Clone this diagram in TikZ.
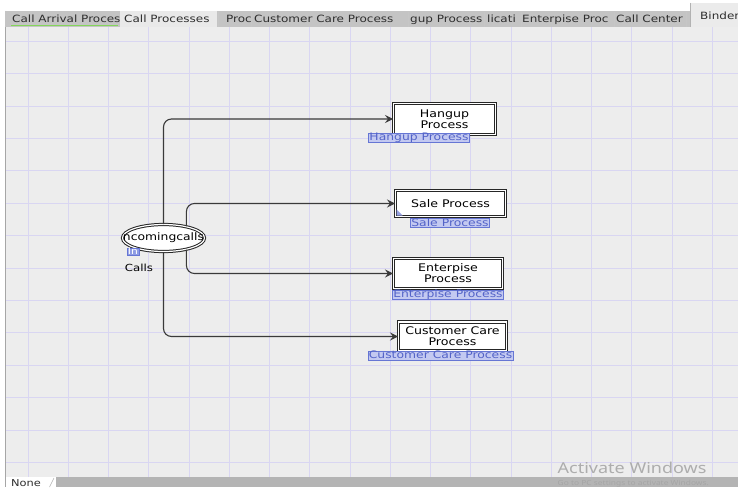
\documentclass[tikz,border=0pt]{standalone}
\usepackage{fontspec}
\newfontfamily\uifont{DejaVu Sans}[FakeStretch=1.2]
\newfontfamily\winfont{Noto Sans}[FakeStretch=1.2]
\usetikzlibrary{arrows.meta,shapes.geometric}
\definecolor{canvasc}{HTML}{EDEDED}
\definecolor{gridc}{HTML}{D9D6F2}
\definecolor{tabbar}{HTML}{C4C4C4}
\definecolor{tabact}{HTML}{E9E9E9}
\definecolor{tabtext}{HTML}{2E2E2E}
\definecolor{lblfill}{HTML}{C3C9F1}
\definecolor{lbldraw}{HTML}{6676D4}
\definecolor{lbltext}{HTML}{5363C8}
\definecolor{inbox}{HTML}{8E9CE4}
\definecolor{connc}{HTML}{3A3A3A}
\definecolor{bottombar}{HTML}{B4B4B4}
\definecolor{greenline}{HTML}{84D65A}
\definecolor{watermark}{HTML}{ADADAD}
\tikzset{
  tabtxt/.style={anchor=base west, inner sep=0pt, text=tabtext, font=\uifont\fontsize{10}{12}\selectfont},
  procbox/.style={rectangle, draw=black!85, double=white, double distance=1.2pt, line width=1pt,
    fill=white, inner sep=0pt, align=center, font=\uifont\fontsize{10.5}{11}\selectfont},
  ellnode/.style={ellipse, draw=black!85, double=white, double distance=1.2pt, line width=1pt,
    fill=white, inner sep=0pt, minimum width=82pt, minimum height=27pt},
  bluelbl/.style={rectangle, fill=lblfill, draw=lbldraw, line width=0.6pt, text=lbltext,
    inner xsep=1pt, inner ysep=0.4pt, text height=7.2pt, text depth=1.2pt,
    font=\uifont\fontsize{10.3}{10}\selectfont},
  inlbl/.style={rectangle, fill=inbox, draw=lbldraw, line width=0.6pt, text=white,
    inner xsep=1pt, inner ysep=0.3pt, text height=6.5pt, text depth=0pt,
    font=\uifont\fontsize{9}{9}\selectfont},
  connector/.style={draw=connc, line width=1.1pt, rounded corners=8pt,
    -{Stealth[length=8pt,width=8pt,inset=3pt]}},
}
\begin{document}
\begin{tikzpicture}[x=1pt,y=-1pt]
\useasboundingbox (0,0) rectangle (738,487);
\fill[white] (0,0) rectangle (738,487);
% canvas
\fill[canvasc] (5,27) rectangle (738,476.5);
\foreach \i in {0,...,17} \draw[gridc, line width=0.6pt] ({28+40.25*\i},27) -- ({28+40.25*\i},476.5);
\foreach \j in {0,...,13} \draw[gridc, line width=0.6pt] (5,{41+32.4*\j}) -- (738,{41+32.4*\j});
\draw[gray!70, line width=0.6pt] (5,11) -- (5,487);
% tab bar
\fill[tabbar] (5,11) rectangle (690,27);
\fill[tabact] (120,11) rectangle (217,27);
\fill[tabact!90!white] (690,3) rectangle (738,27);
\draw[gray!60, line width=0.5pt] (690,3) -- (690,27);
\foreach \sx in {218,251,408,484,521,614,686} \draw[gray!45, line width=0.5pt] (\sx,12) -- (\sx,27);
\node[tabtxt] (t1) at (12,23) {Call Arrival Proces};
\draw[greenline, line width=1.5pt] (11,25.3) -- (118,25.3);
\node[tabtxt] (t2) at (124,23) {Call Processes};
\node[tabtxt] (t3) at (226,23) {Proc};
\node[tabtxt] (t4) at (254,23) {Customer Care Process};
\node[tabtxt] (t5) at (410,23) {gup Process};
\node[tabtxt] (t6) at (487,23) {licati};
\node[tabtxt] (t7) at (522,23) {Enterpise Proc};
\node[tabtxt] (t8) at (616,23) {Call Center};
\node[tabtxt] (t9) at (700,19.5) {Binder};
% nodes
\node[ellnode, label={[font=\uifont\fontsize{10.3}{12}\selectfont, inner sep=0pt]center:ncomingcalls}] (inc) at (163.5,238) {};
\node[inlbl] (inl) at (133,251.5) {In};
\node[font=\uifont\fontsize{9.8}{11}\selectfont, inner sep=0pt] (calls) at (139,267.5) {Calls};
\node[procbox, minimum width=102pt, minimum height=31pt] (hang) at (444.5,119) {Hangup\\Process};
\node[procbox, minimum width=110pt, minimum height=26pt] (sale) at (450.5,203.5) {Sale Process};
\node[procbox, minimum width=109pt, minimum height=30pt] (ent) at (448,273.5) {Enterpise\\Process};
\node[procbox, minimum width=108pt, minimum height=29pt] (cust) at (452.5,336.5) {Customer Care\\Process};
% connectors
\draw[connector] (inc.north) |- (hang.west);
\draw[connector] (inc.27) |- (sale.west);
\draw[connector] (inc.-27) |- (ent.west);
\draw[connector] (inc.south) |- (cust.west);
% corner handle
\fill[lbldraw!70] (sale.south west) ++(1.5,-1.5) -- ++(0,-6) -- ++(6,6) -- cycle;
% blue labels
\node[bluelbl] (hangl) at (419,137.5) {Hangup Process};
\node[bluelbl] (salel) at (450,223) {Sale Process};
\node[bluelbl] (entl) at (448,294.5) {Enterpise Process};
\node[bluelbl] (custl) at (440.5,355.5) {Customer Care Process};
% bottom bar
\fill[bottombar] (56,477) rectangle (738,487);
\draw[gray!60, line width=0.5pt] (49.5,487) -- (54,478);
\node[tabtxt, font=\uifont\fontsize{9.5}{11}\selectfont] (none) at (11,486) {None};
\node[anchor=base west, inner sep=0pt, text=watermark, font=\winfont\fontsize{15}{17}\selectfont] (act) at (557.5,473.5) {Activate Windows};
\node[anchor=base west, inner sep=0pt, text=bottombar!92!black, font=\winfont\fontsize{7}{8}\selectfont] (act2) at (557.5,485.5) {Go to PC settings to activate Windows.};
\end{tikzpicture}
\end{document}
